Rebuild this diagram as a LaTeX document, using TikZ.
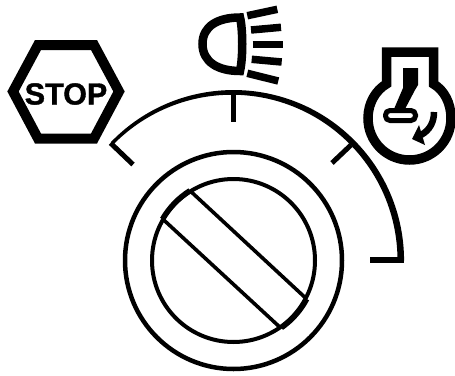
\documentclass[tikz,border=0pt]{standalone}
\usepackage{fontspec}
\setmainfont{Liberation Sans}[BoldFeatures={FakeBold=1.2}]
\tikzset{ink/.style={draw=black,line width=#1},ink/.default=4pt}
\begin{document}
\begin{tikzpicture}[x=1pt,y=-1pt]
\useasboundingbox[fill=white] (0,0) rectangle (455,375);
\coordinate (c) at (233.5,260.5);
% knob
\node[ink=4.5pt,circle,minimum size=217pt,inner sep=0pt] (outer) at (c) {};
\node[ink=4pt,circle,minimum size=163pt,inner sep=0pt] (inner) at (c) {};
\coordinate (a1) at (190,190.7);
\coordinate (a2) at (306.7,299);
\coordinate (b1) at (162.7,219);
\coordinate (b2) at (280,327.3);
\draw[ink=3.6pt] (a1) -- (a2);
\draw[ink=3.6pt] (b1) -- (b2);
\draw[ink=5.5pt] (a1) arc[start angle=122,end angle=150,radius=82pt];
\draw[ink=5.5pt] (a2) arc[start angle=-28,end angle=-55,radius=82pt];
% scale
\fill (110.9,142.1) arc[start angle=136,end angle=0,radius=170.5pt] -- (397.5,260.5) arc[start angle=0,end angle=136,radius=165.75pt] -- cycle;
\draw[ink=5pt] (133,164.5) -- (110.5,143);
\draw[ink=6.5pt] (370,260) -- (404,260);
\draw[ink=5pt] (233,90) -- (233,122);
\draw[ink=5pt] (351,145) -- (332,163);
% stop
\draw[ink=10pt,line join=miter] (38,45) -- (94,45) -- (119,91.5) -- (94,138.5) -- (38,138.5) -- (13,91.5) -- cycle;
\node[inner sep=0pt,font=\bfseries\fontsize{30.5}{30.5}\selectfont] (stop) at (66,94) {STOP};
% lamp
\draw[ink=8.5pt] (240,17.5) .. controls (218,17.5) and (202.5,26) .. (202.5,44) .. controls (202.5,62) and (218,71) .. (240,71) .. controls (243,58) and (243,30) .. (240,17.5) -- cycle;
\draw[ink=7.5pt] (247.3,15.7) -- (277.3,9.3);
\draw[ink=7.5pt] (251,30) -- (281,27.3);
\draw[ink=7.5pt] (252.7,44.3) -- (282.7,44.3);
\draw[ink=7.5pt] (251.7,59.3) -- (281.7,62);
\draw[ink=7.5pt] (247.3,73.3) -- (278.3,81);
% engine
\draw[ink=9.5pt,line join=miter] (386.5,84) -- (386.5,52) -- (433.5,52) -- (433.5,84) .. controls (444,90) and (451,103) .. (451,118) .. controls (451,142) and (432,160) .. (409.5,160) .. controls (387,160) and (368,142) .. (368,118) .. controls (368,103) and (376,90) .. (386.5,84) -- cycle;
\fill (403,68) -- (418,68) -- (418,85) -- (415,90) -- (405,109) -- (394,109) -- (403,88) -- cycle;
\draw[ink=5pt,rounded corners=4.5pt] (385.5,110.5) rectangle (415.5,120.5);
\draw[ink=6.5pt] (434,112) .. controls (434,122) and (430,130) .. (421,135);
\fill (412,139) -- (419,125) -- (425,145) -- cycle;
\end{tikzpicture}
\end{document}
